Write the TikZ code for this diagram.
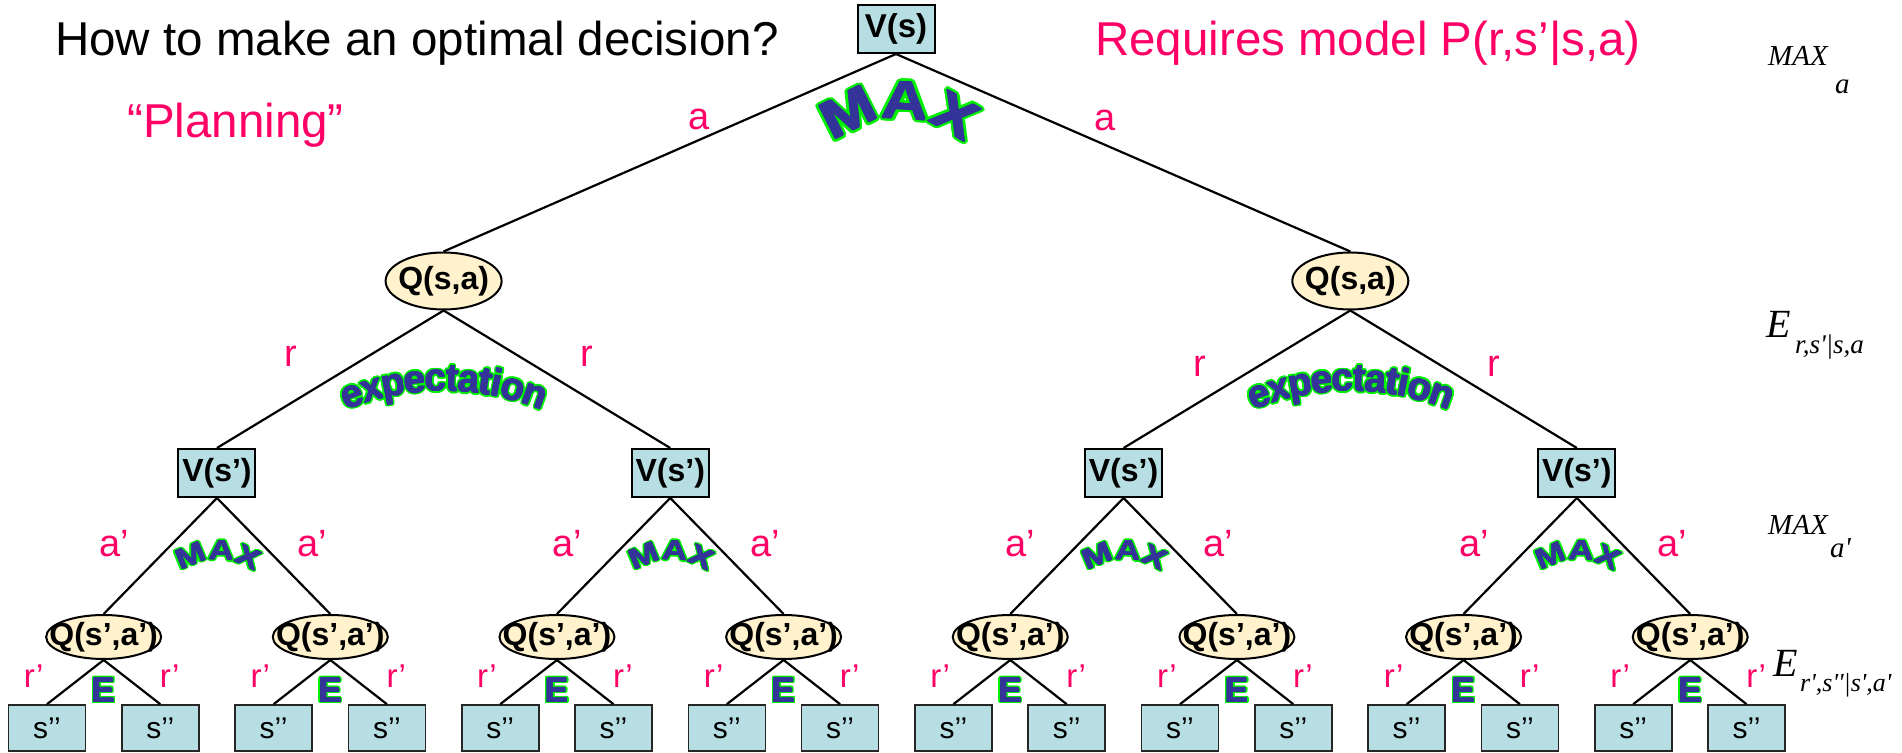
\documentclass[tikz,border=0pt]{standalone}
\usepackage{fontspec}
\setmainfont{Liberation Sans}
\newfontfamily\tmsit{Liberation Serif}[Ligatures=TeXOff]
\usetikzlibrary{shapes.geometric,calc}

\definecolor{hot}{RGB}{255,0,102}
\definecolor{boxfill}{RGB}{183,222,226}
\definecolor{qfill}{RGB}{255,242,204}
\definecolor{artfill}{RGB}{51,51,153}
\definecolor{artedge}{RGB}{0,240,0}

\newcommand\fs[1]{\fontsize{#1}{#1}\selectfont}
% one shifted copy of a glyph, used to build outline and weight
\newcommand\offcopy[3]{\rlap{\hspace*{#1em}\raisebox{#2em}{#3}}}
% heavy blue letters with a green outline
\newcommand\wart[1]{{\color{artedge}%
  \offcopy{0.055}{0}{#1}\offcopy{-0.055}{0}{#1}\offcopy{0}{0.055}{#1}\offcopy{0}{-0.055}{#1}%
  \offcopy{0.039}{0.039}{#1}\offcopy{-0.039}{0.039}{#1}\offcopy{0.039}{-0.039}{#1}\offcopy{-0.039}{-0.039}{#1}%
  \offcopy{0.051}{0.021}{#1}\offcopy{-0.051}{0.021}{#1}\offcopy{0.051}{-0.021}{#1}\offcopy{-0.051}{-0.021}{#1}%
  \offcopy{0.021}{0.051}{#1}\offcopy{-0.021}{0.051}{#1}\offcopy{0.021}{-0.051}{#1}\offcopy{-0.021}{-0.051}{#1}}%
  {\color{artfill}%
  \offcopy{0.014}{0}{#1}\offcopy{-0.014}{0}{#1}\offcopy{0}{0.014}{#1}\offcopy{0}{-0.014}{#1}}%
  \textcolor{artfill}{#1}}

% word set letter by letter on an upward arch
% #1 name, #2 arc centre, #3 radius, #4 size, #5 stretch, #6 total advance (1/1000 em), #7 letter/advance list
\newcommand\archword[7]{%
  \pgfmathsetmacro\archk{#4*#5/1000/#3*57.2958}%
  \pgfmathsetmacro\archstart{90+#6*\archk/2}%
  \xdef\archang{\archstart}%
  \foreach \ch/\w [count=\i] in {#7}{%
    \pgfmathsetmacro\archmid{\archang-\w*\archk/2}%
    \node[name=#1-\i, anchor=base, inner sep=0pt, rotate=\archmid-90, xscale=#5,
          font=\bfseries\fs{#4}] at ($(#2)+(\archmid:#3)$) {\wart{\ch}};%
    \pgfmathsetmacro\archnext{\archang-\w*\archk}%
    \xdef\archang{\archnext}%
  }%
}

\tikzset{
  vbox/.style={draw=black, line width=2pt, fill=boxfill, minimum width=77pt,
    minimum height=48pt, inner sep=0pt, font=\bfseries\fs{32}},
  leafbox/.style={draw=black!85, line width=1.6pt, fill=boxfill, minimum width=77pt,
    minimum height=46pt, inner sep=0pt, font=\fs{30}},
  qell/.style={ellipse, draw=black, line width=2pt, fill=qfill, inner sep=0pt,
    font=\bfseries\fs{32}},
  edge/.style={line width=2.2pt, black},
  lab/.style={text=hot, anchor=base, inner sep=0pt, font=\fs{38}},
  smalllab/.style={text=hot, anchor=base, inner sep=0pt, font=\fs{33}},
  heading/.style={anchor=base west, inner sep=0pt, font=\fs{47.5}},
  eqlab/.style={anchor=base west, inner sep=0pt},
  wordE/.style={anchor=base, inner sep=0pt, font=\bfseries\fs{35}},
}

\begin{document}
\begin{tikzpicture}[x=1pt,y=1pt]
\fill[white] (0,0) rectangle (1902,752);
\useasboundingbox (0,0) rectangle (1902,752);

% headings
\node[heading] (title) at (55,696) {How to make an optimal decision?};
\node[heading, text=hot] (model) at (1095,696) {Requires model P(r,s’|s,a)};
\node[heading, text=hot] (plan) at (127,614) {“Planning”};

% tree nodes
\node[vbox, font=\bfseries\fs{33}] (vs) at (896,723) {V(s)};
\node[qell, minimum width=116pt, minimum height=57pt] (qa1) at (443.6,471) {\makebox[0pt]{Q(s,a)}};
\node[qell, minimum width=116pt, minimum height=57pt] (qa2) at (1350.3,471) {\makebox[0pt]{Q(s,a)}};
\foreach \j in {1,...,4}{
  \pgfmathsetmacro\vx{216.95+453.3*(\j-1)}
  \node[vbox] (v\j) at (\vx,279) {V(s’)};
}
\foreach \k in {1,...,8}{
  \pgfmathsetmacro\qx{103.65+226.65*(\k-1)}
  \node[qell, minimum width=115pt, minimum height=44pt] (q\k) at (\qx,115) {\makebox[0pt]{Q(s’,a’)}};
}
\foreach \i in {1,...,16}{
  \pgfmathsetmacro\lx{47+113.3*(\i-1)}
  \node[leafbox] (l\i) at (\lx,24) {s’’};
}

% connectors
\draw[edge] (vs.south) -- (qa1.north);
\draw[edge] (vs.south) -- (qa2.north);
\draw[edge] (qa1.south) -- (v1.north);
\draw[edge] (qa1.south) -- (v2.north);
\draw[edge] (qa2.south) -- (v3.north);
\draw[edge] (qa2.south) -- (v4.north);
\foreach \j [evaluate=\j as \a using int(2*\j-1), evaluate=\j as \b using int(2*\j)] in {1,...,4}{
  \draw[edge] (v\j.south) -- (q\a.north);
  \draw[edge] (v\j.south) -- (q\b.north);
}
\foreach \k [evaluate=\k as \a using int(2*\k-1), evaluate=\k as \b using int(2*\k)] in {1,...,8}{
  \draw[edge] (q\k.south) -- (l\a.north);
  \draw[edge] (q\k.south) -- (l\b.north);
}

% edge labels
\node[lab] (la1) at (699,622) {a};
\node[lab] (la2) at (1105,621) {a};
\node[lab] (lr1) at (291,385) {r};
\node[lab] (lr2) at (587,385) {r};
\node[lab] (lr3) at (1200,375) {r};
\node[lab] (lr4) at (1494,375) {r};
\foreach \j in {1,...,4}{
  \node[lab] (lap\j a) at ($(v\j)+(-103,-84)$) {a’};
  \node[lab] (lap\j b) at ($(v\j)+(95,-84)$) {a’};
}
\foreach \k in {1,...,8}{
  \node[smalllab] (lrp\k a) at ($(q\k)+(-70,-51)$) {r’};
  \node[smalllab] (lrp\k b) at ($(q\k)+(66,-51)$) {r’};
  \node[wordE] (ex\k) at ($(q\k)+(0,-65)$) {\wart{E}};
}

% decorative arched words
\coordinate (bigarc) at (899,538);
\archword{bigmax}{bigarc}{95}{54}{1.2}{2222}{M/833,A/722,X/667}
\coordinate (exarc1) at (444,99);
\coordinate (exarc2) at (1351,99);
\archword{expA}{exarc1}{262}{38.5}{1}{5557}{e/556,x/556,p/611,e/556,c/556,t/333,a/556,t/333,i/278,o/611,n/611}
\archword{expB}{exarc2}{262}{38.5}{1}{5557}{e/556,x/556,p/611,e/556,c/556,t/333,a/556,t/333,i/278,o/611,n/611}
\foreach \j in {1,...,4}{
  \coordinate (marc\j) at ($(v\j)+(1,-149)$);
  \archword{smax\j}{marc\j}{62}{28}{1.27}{2222}{M/833,A/722,X/667}
}

% operator annotations on the right
\node[eqlab, font=\tmsit\itshape\fs{29}] (m1) at (1768,686) {MAX};
\node[eqlab, font=\tmsit\itshape\fs{29}] (m1s) at (1835,658) {a};
\node[eqlab, font=\tmsit\itshape\fs{40}] (e1) at (1766,414) {E};
\node[eqlab, font=\tmsit\itshape\fs{27}] (e1s) at (1795,398) {r,s'|s,a};
\node[eqlab, font=\tmsit\itshape\fs{29}] (m2) at (1768,217) {MAX};
\node[eqlab, font=\tmsit\itshape\fs{29}] (m2s) at (1830,194) {a'};
\node[eqlab, font=\tmsit\itshape\fs{40}] (e2) at (1773,76) {E};
\node[eqlab, font=\tmsit\itshape\fs{26}] (e2s) at (1800,60) {r',s''|s',a'};
\end{tikzpicture}
\end{document}
